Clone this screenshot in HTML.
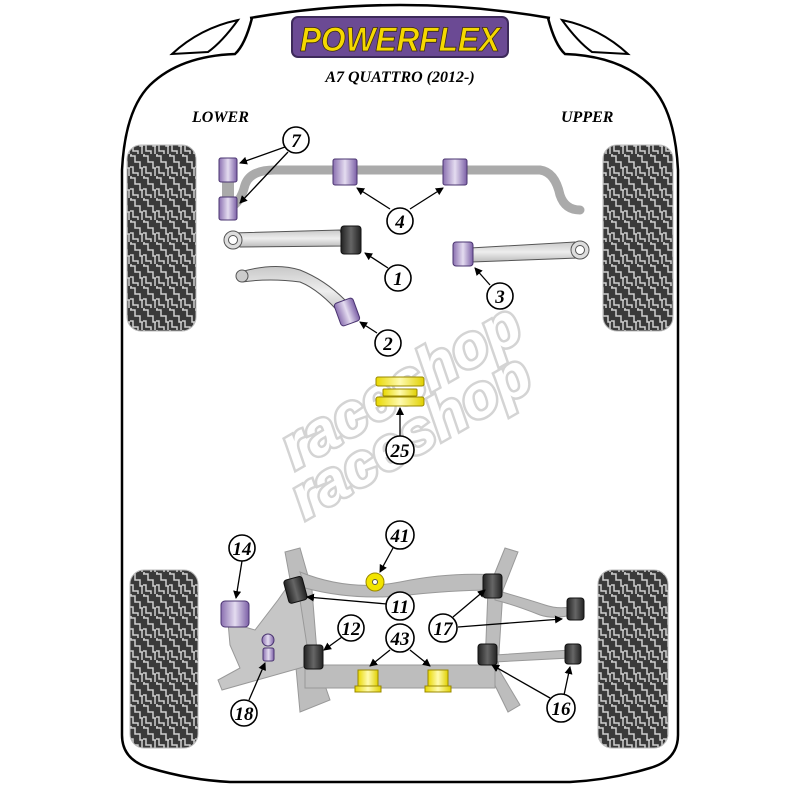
<!DOCTYPE html>
<html><head><meta charset="utf-8"><style>
html,body{margin:0;padding:0;background:#fff;width:800px;height:800px;overflow:hidden}
svg{display:block}
.n{font-family:"Liberation Serif",serif;font-weight:bold;font-style:italic;font-size:19px;text-anchor:middle}
.lb{font-family:"Liberation Serif",serif;font-weight:bold;font-style:italic;font-size:16px}
</style></head><body>
<svg width="800" height="800" viewBox="0 0 800 800" xmlns="http://www.w3.org/2000/svg">
<defs>
<pattern id="tr" width="13" height="22" patternUnits="userSpaceOnUse">
<rect width="13" height="22" fill="#3a3a3a"/>
<path d="M0 2 H5 V8 H10 V14 H13 M0 13 H3 V19 H8 V22 M1 0 V2 M12 14 V22" stroke="#d0d0d0" stroke-width="1.5" fill="none"/>
</pattern>
<linearGradient id="pu" x1="0" x2="1"><stop offset="0" stop-color="#8a6fb0"/><stop offset=".5" stop-color="#e4dcf0"/><stop offset="1" stop-color="#7b5fa6"/></linearGradient>
<linearGradient id="bk" x1="0" x2="1"><stop offset="0" stop-color="#222"/><stop offset=".5" stop-color="#666"/><stop offset="1" stop-color="#222"/></linearGradient>
<linearGradient id="ye" x1="0" x2="1"><stop offset="0" stop-color="#e8d800"/><stop offset=".5" stop-color="#fffbb0"/><stop offset="1" stop-color="#e0d000"/></linearGradient>
<linearGradient id="gr" x1="0" y1="0" x2="0" y2="1"><stop offset="0" stop-color="#c8c8c8"/><stop offset=".5" stop-color="#eee"/><stop offset="1" stop-color="#bbb"/></linearGradient>
<marker id="ar" markerWidth="8" markerHeight="8" refX="7" refY="4" orient="auto" markerUnits="userSpaceOnUse"><path d="M0 0 L8 4 L0 8z" fill="#000"/></marker>
</defs>

<!-- body outline -->
<path d="M250 18 Q400 -8 550 18" fill="none" stroke="#000" stroke-width="2.5"/>
<path d="M172 54 Q200 28 238 20 Q222 42 208 52 Z" fill="#fff" stroke="#000" stroke-width="2"/>
<path d="M628 54 Q600 28 562 20 Q578 42 592 52 Z" fill="#fff" stroke="#000" stroke-width="2"/>
<path d="M252 18 Q245 45 235 54 Q180 56 150 85 Q125 110 122 170 L122 735 Q122 760 150 768 Q190 780 230 782 L570 782 Q610 780 650 768 Q678 760 678 735 L678 170 Q675 110 650 85 Q620 56 565 54 Q555 45 548 18" fill="none" stroke="#000" stroke-width="2.5"/>

<!-- tires -->
<rect x="127" y="145" width="69" height="186" rx="14" fill="url(#tr)" stroke="#bbb"/>
<rect x="603" y="145" width="70" height="186" rx="14" fill="url(#tr)" stroke="#bbb"/>
<rect x="130" y="570" width="68" height="178" rx="14" fill="url(#tr)" stroke="#bbb"/>
<rect x="598" y="570" width="70" height="178" rx="14" fill="url(#tr)" stroke="#bbb"/>

<!-- logo -->
<rect x="292" y="17" width="216" height="40" rx="6" fill="#6b4a94" stroke="#3d2a5a" stroke-width="2"/>
<text x="400" y="51" text-anchor="middle" font-family="Liberation Sans,sans-serif" font-weight="bold" font-style="italic" font-size="34" fill="#f5d800" stroke="#3a2a10" stroke-width=".8" textLength="200" lengthAdjust="spacingAndGlyphs">POWERFLEX</text>
<text x="400" y="82" text-anchor="middle" class="lb" font-size="21">A7 QUATTRO (2012-)</text>
<text x="192" y="122" class="lb">LOWER</text>
<text x="561" y="122" class="lb">UPPER</text>

<!-- watermark -->
<g font-family="Liberation Sans,sans-serif" font-weight="bold" font-style="italic" font-size="60" fill="#fff" stroke="#d4d4d4" stroke-width="5" paint-order="stroke">
<text x="295" y="470" transform="rotate(-30 295 470)">raceshop</text>
<text x="305" y="520" transform="rotate(-30 305 520)">raceshop</text>
</g>

<!-- sway bar -->
<path d="M228 175 L228 208 M228 208 Q240 205 245 185 Q250 170 275 170 L540 170 Q555 172 560 195 Q565 210 580 210" fill="none" stroke="#aaa" stroke-width="9" stroke-linecap="round"/>
<rect x="222" y="178" width="12" height="24" fill="#aaa"/>
<g fill="url(#pu)" stroke="#4a3470" stroke-width="1">
<rect x="219" y="158" width="18" height="24" rx="2"/><rect x="219" y="197" width="18" height="23" rx="2"/>
<rect x="333" y="159" width="24" height="26" rx="2"/><rect x="443" y="159" width="24" height="26" rx="2"/>
</g>

<!-- arm 1 -->
<path d="M232 233 L340 230 L345 246 L240 247 Z" fill="url(#gr)" stroke="#555"/>
<circle cx="233" cy="240" r="9" fill="#ddd" stroke="#555"/><circle cx="233" cy="240" r="4.5" fill="#fff" stroke="#555"/>
<rect x="341" y="226" width="20" height="28" rx="3" fill="url(#bk)" stroke="#111"/>
<!-- arm 3 -->
<path d="M470 248 L575 242 L578 258 L472 262 Z" fill="url(#gr)" stroke="#555"/>
<circle cx="580" cy="250" r="9" fill="#ddd" stroke="#555"/><circle cx="580" cy="250" r="4.5" fill="#fff" stroke="#555"/>
<rect x="453" y="242" width="20" height="24" rx="3" fill="url(#pu)" stroke="#4a3470"/>
<!-- arm 2 -->
<path d="M240 272 Q275 262 300 270 Q325 280 345 300 L352 308 L342 316 Q320 290 300 282 Q270 278 242 282 Z" fill="url(#gr)" stroke="#555"/>
<circle cx="242" cy="276" r="6" fill="#ccc" stroke="#555"/>
<rect x="337" y="300" width="20" height="24" rx="3" fill="url(#pu)" stroke="#4a3470" transform="rotate(-20 347 312)"/>

<!-- 25 -->
<g fill="url(#ye)" stroke="#998800">
<rect x="376" y="377" width="48" height="9" rx="2"/><rect x="383" y="389" width="34" height="7" rx="1"/><rect x="376" y="397" width="48" height="9" rx="2"/>
</g>

<!-- rear subframe -->
<g fill="#bdbdbd" stroke="#999">
<path d="M285 552 L300 548 L312 590 L318 665 L330 700 L300 712 L296 668 L292 590 Z"/>
<path d="M505 548 L518 552 L503 590 L498 668 L520 705 L508 712 L485 665 L488 590 Z"/>
<path d="M300 572 Q350 592 400 582 Q450 572 495 575 L495 590 Q450 590 400 596 Q350 600 305 588 Z"/>
<path d="M305 665 L495 665 L495 688 L305 688 Z"/>
<path d="M228 622 L255 630 L278 600 L292 580 L300 600 L310 665 L300 668 L222 690 L218 680 L240 668 L230 645 Z" fill="#c6c6c6"/>
<path d="M495 590 Q530 600 545 605 Q560 610 575 606 L575 614 Q555 620 540 615 Q515 605 495 600Z"/>
<path d="M495 655 L570 650 L570 658 L495 662Z"/>
</g>
<circle cx="375" cy="582" r="9" fill="#f2e400" stroke="#998800"/><circle cx="375" cy="582" r="2.5" fill="#fff" stroke="#555"/>
<g fill="url(#bk)" stroke="#111">
<rect x="286" y="578" width="19" height="24" rx="3" transform="rotate(-15 295 590)"/>
<rect x="304" y="645" width="19" height="24" rx="3"/>
<rect x="483" y="574" width="19" height="24" rx="3"/>
<rect x="567" y="598" width="17" height="22" rx="3"/>
<rect x="478" y="644" width="19" height="21" rx="3"/>
<rect x="565" y="644" width="16" height="20" rx="3"/>
</g>
<rect x="221" y="601" width="28" height="26" rx="4" fill="url(#pu)" stroke="#4a3470"/>
<circle cx="268" cy="640" r="6" fill="url(#pu)" stroke="#4a3470"/>
<rect x="263" y="648" width="11" height="13" rx="2" fill="url(#pu)" stroke="#4a3470"/>
<g fill="url(#ye)" stroke="#998800">
<rect x="358" y="670" width="20" height="20"/><rect x="355" y="686" width="26" height="6"/>
<rect x="428" y="670" width="20" height="20"/><rect x="425" y="686" width="26" height="6"/>
</g>

<!-- leaders -->
<g stroke="#000" stroke-width="1.3" fill="none" marker-end="url(#ar)">
<line x1="285" y1="147" x2="240" y2="163"/><line x1="288" y1="152" x2="240" y2="203"/>
<line x1="390" y1="209" x2="357" y2="188"/><line x1="410" y1="209" x2="443" y2="188"/>
<line x1="388" y1="268" x2="365" y2="253"/>
<line x1="490" y1="285" x2="475" y2="268"/>
<line x1="377" y1="333" x2="360" y2="322"/>
<line x1="400" y1="437" x2="400" y2="408"/>
<line x1="393" y1="548" x2="380" y2="572"/>
<line x1="242" y1="561" x2="236" y2="598"/>
<line x1="387" y1="604" x2="307" y2="597"/>
<line x1="342" y1="637" x2="324" y2="650"/>
<line x1="390" y1="650" x2="370" y2="666"/><line x1="410" y1="650" x2="430" y2="666"/>
<line x1="453" y1="617" x2="485" y2="590"/><line x1="458" y1="627" x2="562" y2="619"/>
<line x1="249" y1="700" x2="265" y2="663"/>
<line x1="550" y1="698" x2="492" y2="665"/><line x1="564" y1="695" x2="570" y2="667"/>
</g>

<!-- number circles -->
<g fill="#fff" stroke="#000" stroke-width="1.6">
<circle cx="296" cy="140" r="13"/><circle cx="400" cy="221" r="13"/><circle cx="398" cy="278" r="13"/>
<circle cx="500" cy="296" r="13"/><circle cx="388" cy="343" r="13"/><circle cx="400" cy="450" r="14"/>
<circle cx="400" cy="535" r="14"/><circle cx="242" cy="548" r="13"/><circle cx="400" cy="606" r="14"/>
<circle cx="351" cy="628" r="13"/><circle cx="400" cy="638" r="14"/><circle cx="443" cy="628" r="14"/>
<circle cx="244" cy="713" r="13"/><circle cx="561" cy="708" r="14"/>
</g>
<g class="n">
<text x="296" y="147" class="n">7</text><text x="400" y="228" class="n">4</text><text x="398" y="285" class="n">1</text>
<text x="500" y="303" class="n">3</text><text x="388" y="350" class="n">2</text><text x="400" y="457" class="n">25</text>
<text x="400" y="542" class="n">41</text><text x="242" y="555" class="n">14</text><text x="400" y="613" class="n">11</text>
<text x="351" y="635" class="n">12</text><text x="400" y="645" class="n">43</text><text x="443" y="635" class="n">17</text>
<text x="244" y="720" class="n">18</text><text x="561" y="715" class="n">16</text>
</g>
</svg>
</body></html>
